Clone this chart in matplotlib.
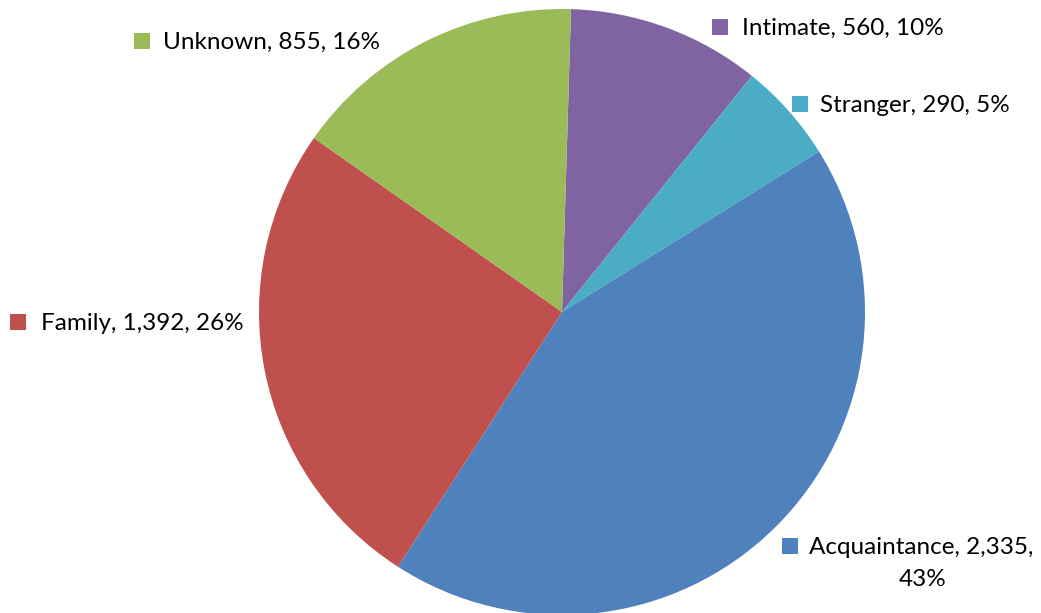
import matplotlib.pyplot as plt

plt.rcParams['font.family'] = ['Lato', 'DejaVu Sans']

# data, clockwise from the top
names = ['Intimate', 'Stranger', 'Acquaintance', 'Family', 'Unknown']
counts = [560, 290, 2335, 1392, 855]
colors = ['#8064A2', '#4BACC6', '#4F81BD', '#C0504D', '#9BBB59']

total = sum(counts)
pcts = [round(100 * c / total) for c in counts]

# layout in pixels (image is 1041 x 613)
W, H = 1041, 613
cx, cy, R = 562, 312, 303


def px(x, y):
    return (x - cx) / R, (cy - y) / R


fig = plt.figure(figsize=(W / 100, H / 100), dpi=100)
ax = fig.add_axes([0, 0, 1, 1])

ax.pie(counts, colors=colors, startangle=88.3, counterclock=False,
       radius=1.0, wedgeprops=dict(linewidth=0))

ax.set_xlim(-cx / R, (W - cx) / R)
ax.set_ylim(-(H - cy) / R, cy / R)
ax.set_aspect('equal')
ax.axis('off')

# label anchor: square centre and text start, in pixels
label_pos = {
    'Intimate': (720, 27, 742),
    'Stranger': (800, 104, 820),
    'Acquaintance': (790, 546, 809),
    'Family': (18, 322, 41),
    'Unknown': (142, 41, 163),
}

fs = 17.5
for name, cnt, pct, col in zip(names, counts, pcts, colors):
    sx, sy, tx = label_pos[name]
    ax.plot(*px(sx, sy), marker='s', markersize=11, color=col,
            markeredgewidth=0, clip_on=False)
    if name == 'Acquaintance':
        ax.text(*px(tx, sy + 1), f"{name}, {cnt:,},", fontsize=fs,
                va='center', ha='left', color='black')
        ax.text(*px(923, sy + 33), f"{pct}%", fontsize=fs,
                va='center', ha='center', color='black')
    else:
        ax.text(*px(tx, sy + 1), f"{name}, {cnt:,}, {pct}%", fontsize=fs,
                va='center', ha='left', color='black')

fig.savefig('out.png', dpi=100)
